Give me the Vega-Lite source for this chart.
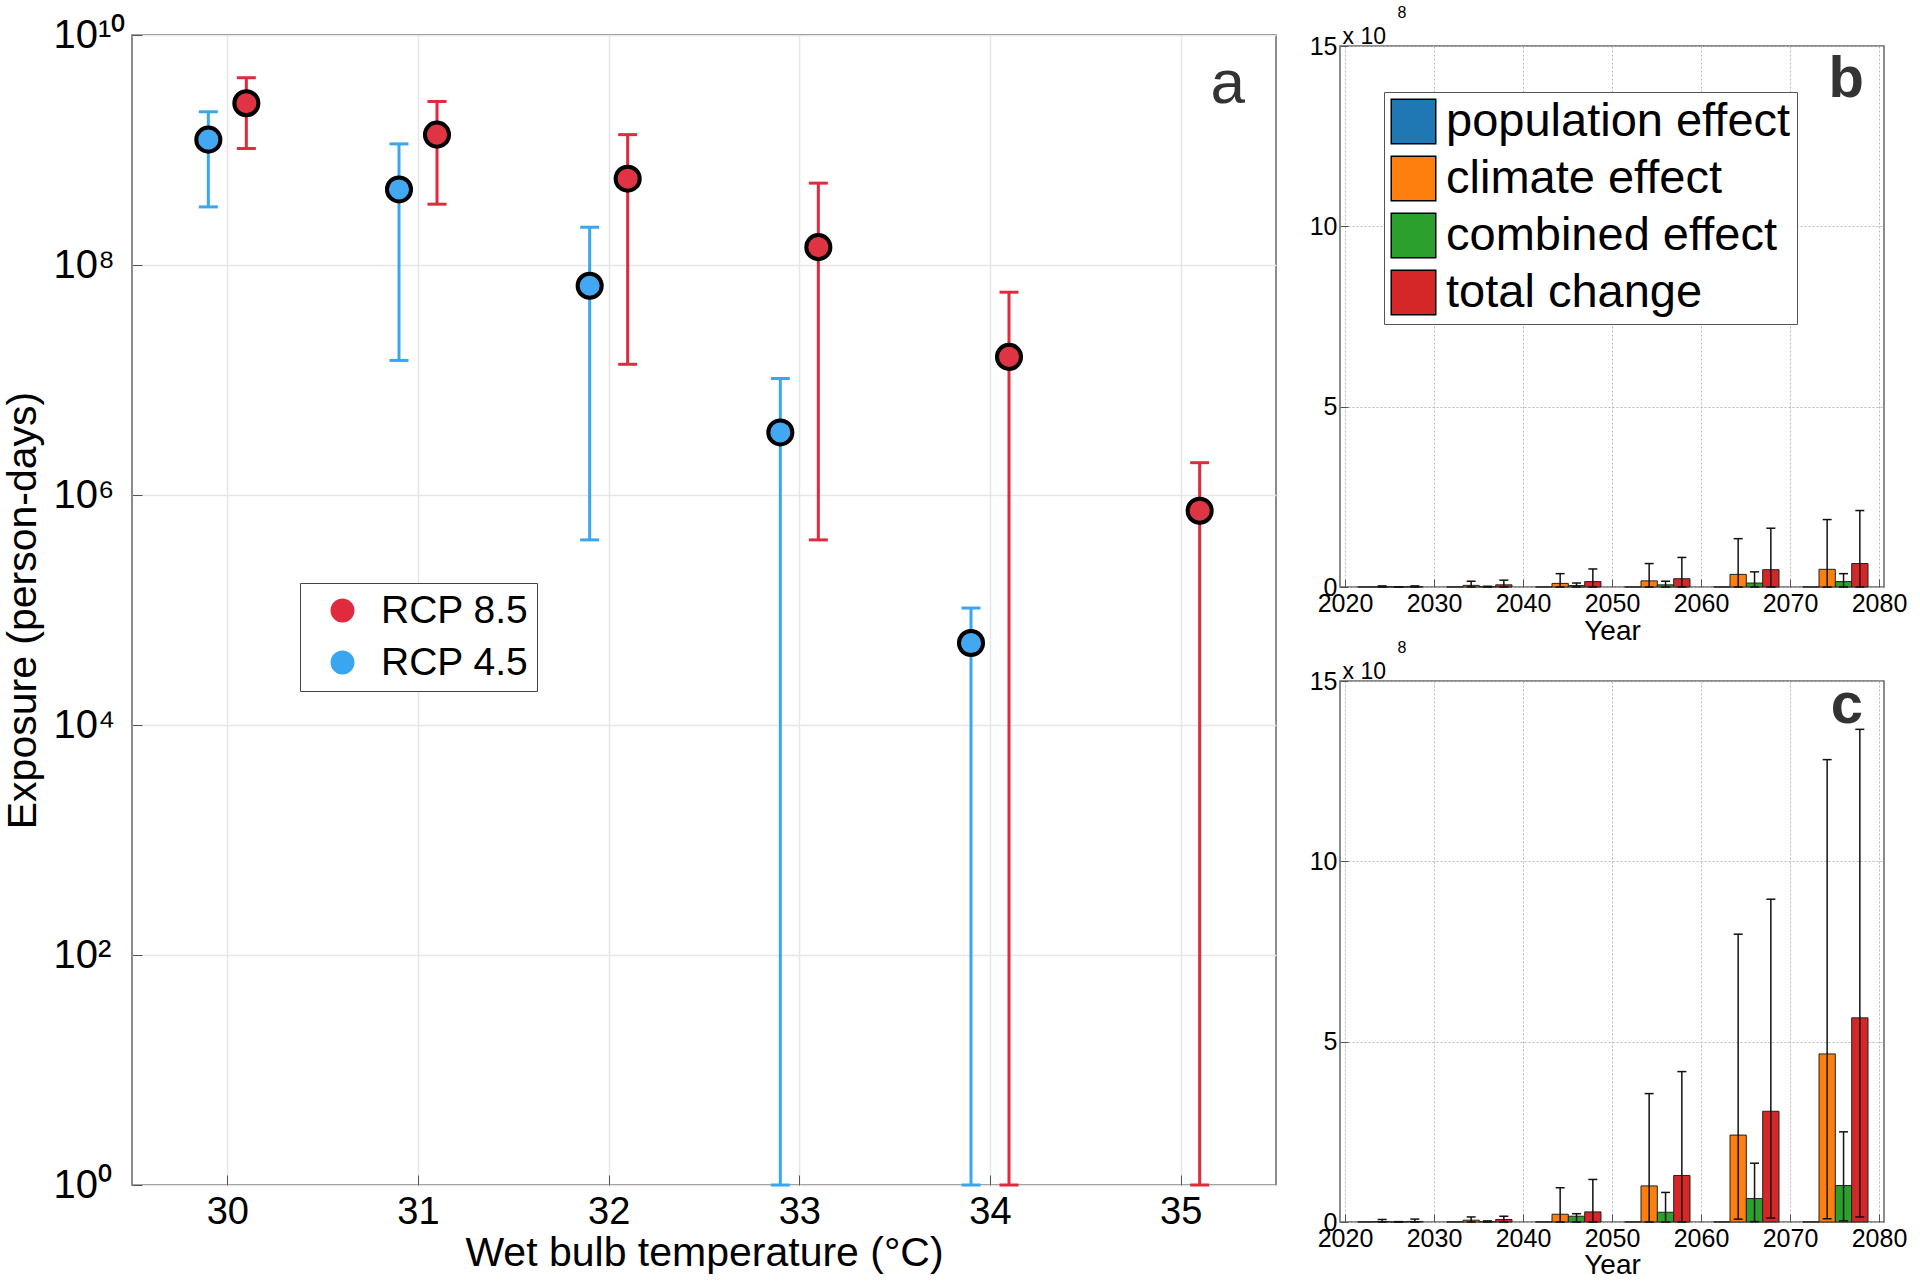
{
  "$schema": "https://vega.github.io/schema/vega-lite/v6.json",
  "background": "white",
  "padding": {"left": 1, "top": 4, "right": 5, "bottom": 5},
  "config": {
    "font": "Liberation Sans",
    "view": {"stroke": "#666666", "strokeWidth": 1.5},
    "axis": {"labelColor": "#000000", "titleColor": "#000000", "labelFont": "Liberation Sans", "titleFont": "Liberation Sans", "titleFontWeight": "normal", "tickColor": "#555555"},
    "legend": {"labelFont": "Liberation Sans", "labelColor": "#000000"}
  },
  "datasets": {
    "a": [
      {"temp": 30, "scenario": "RCP 4.5", "exposure": 1.23e9, "lo": 3.2e8, "hi": 2.15e9},
      {"temp": 30, "scenario": "RCP 8.5", "exposure": 2.55e9, "lo": 1.03e9, "hi": 4.25e9},
      {"temp": 31, "scenario": "RCP 4.5", "exposure": 4.54e8, "lo": 1.48e7, "hi": 1.13e9},
      {"temp": 31, "scenario": "RCP 8.5", "exposure": 1.36e9, "lo": 3.38e8, "hi": 2.64e9},
      {"temp": 32, "scenario": "RCP 4.5", "exposure": 6.6e7, "lo": 4.07e5, "hi": 2.13e8},
      {"temp": 32, "scenario": "RCP 8.5", "exposure": 5.63e8, "lo": 1.37e7, "hi": 1.36e9},
      {"temp": 33, "scenario": "RCP 4.5", "exposure": 3.5e6, "lo": 1, "hi": 1.03e7},
      {"temp": 33, "scenario": "RCP 8.5", "exposure": 1.43e8, "lo": 4.07e5, "hi": 5.15e8},
      {"temp": 34, "scenario": "RCP 4.5", "exposure": 5.16e4, "lo": 1, "hi": 1.04e5},
      {"temp": 34, "scenario": "RCP 8.5", "exposure": 1.59e7, "lo": 1, "hi": 5.8e7},
      {"temp": 35, "scenario": "RCP 8.5", "exposure": 7.3e5, "lo": 1, "hi": 1.91e6}
    ],
    "b": [
      {"decade": 2020, "effect": "population effect", "value": 0.002},
      {"decade": 2020, "effect": "climate effect", "value": 0.005, "lo": 0, "hi": 0.03},
      {"decade": 2020, "effect": "combined effect", "value": 0.001, "lo": 0, "hi": 0.005},
      {"decade": 2020, "effect": "total change", "value": 0.006, "lo": 0, "hi": 0.03},
      {"decade": 2030, "effect": "population effect", "value": 0.002},
      {"decade": 2030, "effect": "climate effect", "value": 0.045, "lo": 0, "hi": 0.16},
      {"decade": 2030, "effect": "combined effect", "value": 0.01, "lo": 0, "hi": 0.02},
      {"decade": 2030, "effect": "total change", "value": 0.06, "lo": 0, "hi": 0.19},
      {"decade": 2040, "effect": "population effect", "value": 0.002},
      {"decade": 2040, "effect": "climate effect", "value": 0.10, "lo": 0, "hi": 0.37},
      {"decade": 2040, "effect": "combined effect", "value": 0.04, "lo": 0, "hi": 0.11},
      {"decade": 2040, "effect": "total change", "value": 0.15, "lo": 0, "hi": 0.50},
      {"decade": 2050, "effect": "population effect", "value": 0.002},
      {"decade": 2050, "effect": "climate effect", "value": 0.17, "lo": 0, "hi": 0.65},
      {"decade": 2050, "effect": "combined effect", "value": 0.06, "lo": 0, "hi": 0.16},
      {"decade": 2050, "effect": "total change", "value": 0.23, "lo": 0, "hi": 0.82},
      {"decade": 2060, "effect": "population effect", "value": 0.002},
      {"decade": 2060, "effect": "climate effect", "value": 0.35, "lo": 0, "hi": 1.34},
      {"decade": 2060, "effect": "combined effect", "value": 0.11, "lo": 0, "hi": 0.42},
      {"decade": 2060, "effect": "total change", "value": 0.48, "lo": 0, "hi": 1.63},
      {"decade": 2070, "effect": "population effect", "value": 0.002},
      {"decade": 2070, "effect": "climate effect", "value": 0.49, "lo": 0, "hi": 1.87},
      {"decade": 2070, "effect": "combined effect", "value": 0.15, "lo": 0, "hi": 0.37},
      {"decade": 2070, "effect": "total change", "value": 0.65, "lo": 0, "hi": 2.12}
    ],
    "c": [
      {"decade": 2020, "effect": "population effect", "value": 0.003},
      {"decade": 2020, "effect": "climate effect", "value": 0.012, "lo": 0, "hi": 0.07},
      {"decade": 2020, "effect": "combined effect", "value": 0.002, "lo": 0, "hi": 0.01},
      {"decade": 2020, "effect": "total change", "value": 0.015, "lo": 0, "hi": 0.08},
      {"decade": 2030, "effect": "population effect", "value": 0.003},
      {"decade": 2030, "effect": "climate effect", "value": 0.05, "lo": 0, "hi": 0.14},
      {"decade": 2030, "effect": "combined effect", "value": 0.01, "lo": 0, "hi": 0.03},
      {"decade": 2030, "effect": "total change", "value": 0.07, "lo": 0, "hi": 0.16},
      {"decade": 2040, "effect": "population effect", "value": 0.003},
      {"decade": 2040, "effect": "climate effect", "value": 0.215, "lo": 0, "hi": 0.95},
      {"decade": 2040, "effect": "combined effect", "value": 0.16, "lo": 0, "hi": 0.23},
      {"decade": 2040, "effect": "total change", "value": 0.28, "lo": 0, "hi": 1.18},
      {"decade": 2050, "effect": "population effect", "value": 0.003},
      {"decade": 2050, "effect": "climate effect", "value": 1.00, "lo": 0, "hi": 3.56},
      {"decade": 2050, "effect": "combined effect", "value": 0.27, "lo": 0, "hi": 0.82},
      {"decade": 2050, "effect": "total change", "value": 1.29, "lo": 0, "hi": 4.17},
      {"decade": 2060, "effect": "population effect", "value": 0.003},
      {"decade": 2060, "effect": "climate effect", "value": 2.41, "lo": 0.08, "hi": 7.98},
      {"decade": 2060, "effect": "combined effect", "value": 0.65, "lo": 0.01, "hi": 1.63},
      {"decade": 2060, "effect": "total change", "value": 3.07, "lo": 0.11, "hi": 8.95},
      {"decade": 2070, "effect": "population effect", "value": 0.003},
      {"decade": 2070, "effect": "climate effect", "value": 4.66, "lo": 0.09, "hi": 12.82},
      {"decade": 2070, "effect": "combined effect", "value": 1.01, "lo": 0.03, "hi": 2.50},
      {"decade": 2070, "effect": "total change", "value": 5.66, "lo": 0.14, "hi": 13.66}
    ]
  },
  "bounds": "flush",
  "spacing": 64,
  "resolve": {"scale": {"color": "independent", "fill": "independent"}, "legend": {"color": "independent", "fill": "independent"}},
  "hconcat": [
    {
      "width": 1144,
      "height": 1150,
      "layer": [
        {
          "data": {"name": "a"},
          "encoding": {
            "x": {"field": "temp", "type": "quantitative", "scale": {"domain": [29.5, 35.5], "nice": false, "zero": false},
              "axis": {"title": "Wet bulb temperature (°C)", "values": [30, 31, 32, 33, 34, 35], "format": "d", "labelFontSize": 38, "titleFontSize": 41, "labelPadding": 18, "titlePadding": 2, "tickSize": -10, "domain": false, "grid": true, "gridColor": "#e6e6e6", "gridWidth": 1.5, "labelFlush": false, "labelOverlap": false}},
            "color": {"field": "scenario", "type": "nominal", "scale": {"domain": ["RCP 8.5", "RCP 4.5"], "range": ["#E02A3E", "#3AA6F0"]},
              "legend": {"title": null, "orient": "none", "legendX": 168, "legendY": 548, "symbolType": "circle", "symbolSize": 573, "symbolOpacity": 1, "symbolStrokeWidth": 0, "labelFontSize": 39, "rowPadding": 12, "padding": 8, "symbolOffset": 15, "labelOffset": 19, "labelLimit": 1000, "strokeColor": "#444444", "fillColor": "#ffffff"}}
          },
          "layer": [
            {
              "transform": [{"filter": "datum.scenario == 'RCP 4.5'"}],
              "mark": {"type": "rule", "strokeWidth": 3, "xOffset": -19},
              "encoding": {
                "y": {"field": "lo", "type": "quantitative", "scale": {"type": "log", "domain": [1, 10000000000]},
                  "axis": {"title": "Exposure (person-days)", "values": [1, 100, 10000, 1000000, 100000000, 10000000000], "labelExpr": "datum.value >= 1e10 ? '10¹⁰' : datum.value >= 1e8 ? '10⁸' : datum.value >= 1e6 ? '10⁶' : datum.value >= 1e4 ? '10⁴' : datum.value >= 100 ? '10²' : '10⁰'", "labelAlign": "left", "labelPadding": 89, "labelFontSize": 40, "titleFontSize": 41, "titlePadding": 9, "tickSize": -10, "domain": false, "grid": true, "gridColor": "#e6e6e6", "gridWidth": 1.5, "labelOverlap": false}},
                "y2": {"field": "hi"}
              }
            },
            {
              "transform": [{"filter": "datum.scenario == 'RCP 8.5'"}],
              "mark": {"type": "rule", "strokeWidth": 3, "xOffset": 19},
              "encoding": {
                "y": {"field": "lo", "type": "quantitative", "scale": {"type": "log", "domain": [1, 10000000000]},
                  "axis": {"title": "Exposure (person-days)", "values": [1, 100, 10000, 1000000, 100000000, 10000000000], "labelExpr": "datum.value >= 1e10 ? '10¹⁰' : datum.value >= 1e8 ? '10⁸' : datum.value >= 1e6 ? '10⁶' : datum.value >= 1e4 ? '10⁴' : datum.value >= 100 ? '10²' : '10⁰'", "labelAlign": "left", "labelPadding": 89, "labelFontSize": 40, "titleFontSize": 41, "titlePadding": 9, "tickSize": -10, "domain": false, "grid": true, "gridColor": "#e6e6e6", "gridWidth": 1.5, "labelOverlap": false}},
                "y2": {"field": "hi"}
              }
            },
            {
              "transform": [{"filter": "datum.scenario == 'RCP 4.5'"}],
              "mark": {"type": "tick", "orient": "horizontal", "thickness": 3, "size": 19, "opacity": 1, "xOffset": -19},
              "encoding": {
                "y": {"field": "hi", "type": "quantitative", "scale": {"type": "log", "domain": [1, 10000000000]},
                  "axis": {"title": "Exposure (person-days)", "values": [1, 100, 10000, 1000000, 100000000, 10000000000], "labelExpr": "datum.value >= 1e10 ? '10¹⁰' : datum.value >= 1e8 ? '10⁸' : datum.value >= 1e6 ? '10⁶' : datum.value >= 1e4 ? '10⁴' : datum.value >= 100 ? '10²' : '10⁰'", "labelAlign": "left", "labelPadding": 89, "labelFontSize": 40, "titleFontSize": 41, "titlePadding": 9, "tickSize": -10, "domain": false, "grid": true, "gridColor": "#e6e6e6", "gridWidth": 1.5, "labelOverlap": false}}
              }
            },
            {
              "transform": [{"filter": "datum.scenario == 'RCP 8.5'"}],
              "mark": {"type": "tick", "orient": "horizontal", "thickness": 3, "size": 19, "opacity": 1, "xOffset": 19},
              "encoding": {
                "y": {"field": "hi", "type": "quantitative", "scale": {"type": "log", "domain": [1, 10000000000]},
                  "axis": {"title": "Exposure (person-days)", "values": [1, 100, 10000, 1000000, 100000000, 10000000000], "labelExpr": "datum.value >= 1e10 ? '10¹⁰' : datum.value >= 1e8 ? '10⁸' : datum.value >= 1e6 ? '10⁶' : datum.value >= 1e4 ? '10⁴' : datum.value >= 100 ? '10²' : '10⁰'", "labelAlign": "left", "labelPadding": 89, "labelFontSize": 40, "titleFontSize": 41, "titlePadding": 9, "tickSize": -10, "domain": false, "grid": true, "gridColor": "#e6e6e6", "gridWidth": 1.5, "labelOverlap": false}}
              }
            },
            {
              "transform": [{"filter": "datum.scenario == 'RCP 4.5'"}],
              "mark": {"type": "tick", "orient": "horizontal", "thickness": 3, "size": 19, "opacity": 1, "xOffset": -19},
              "encoding": {
                "y": {"field": "lo", "type": "quantitative", "scale": {"type": "log", "domain": [1, 10000000000]},
                  "axis": {"title": "Exposure (person-days)", "values": [1, 100, 10000, 1000000, 100000000, 10000000000], "labelExpr": "datum.value >= 1e10 ? '10¹⁰' : datum.value >= 1e8 ? '10⁸' : datum.value >= 1e6 ? '10⁶' : datum.value >= 1e4 ? '10⁴' : datum.value >= 100 ? '10²' : '10⁰'", "labelAlign": "left", "labelPadding": 89, "labelFontSize": 40, "titleFontSize": 41, "titlePadding": 9, "tickSize": -10, "domain": false, "grid": true, "gridColor": "#e6e6e6", "gridWidth": 1.5, "labelOverlap": false}}
              }
            },
            {
              "transform": [{"filter": "datum.scenario == 'RCP 8.5'"}],
              "mark": {"type": "tick", "orient": "horizontal", "thickness": 3, "size": 19, "opacity": 1, "xOffset": 19},
              "encoding": {
                "y": {"field": "lo", "type": "quantitative", "scale": {"type": "log", "domain": [1, 10000000000]},
                  "axis": {"title": "Exposure (person-days)", "values": [1, 100, 10000, 1000000, 100000000, 10000000000], "labelExpr": "datum.value >= 1e10 ? '10¹⁰' : datum.value >= 1e8 ? '10⁸' : datum.value >= 1e6 ? '10⁶' : datum.value >= 1e4 ? '10⁴' : datum.value >= 100 ? '10²' : '10⁰'", "labelAlign": "left", "labelPadding": 89, "labelFontSize": 40, "titleFontSize": 41, "titlePadding": 9, "tickSize": -10, "domain": false, "grid": true, "gridColor": "#e6e6e6", "gridWidth": 1.5, "labelOverlap": false}}
              }
            },
            {
              "transform": [{"filter": "datum.scenario == 'RCP 4.5'"}],
              "mark": {"type": "point", "shape": "circle", "filled": true, "size": 580, "stroke": "#000000", "strokeWidth": 4, "opacity": 1, "xOffset": -19},
              "encoding": {
                "y": {"field": "exposure", "type": "quantitative", "scale": {"type": "log", "domain": [1, 10000000000]},
                  "axis": {"title": "Exposure (person-days)", "values": [1, 100, 10000, 1000000, 100000000, 10000000000], "labelExpr": "datum.value >= 1e10 ? '10¹⁰' : datum.value >= 1e8 ? '10⁸' : datum.value >= 1e6 ? '10⁶' : datum.value >= 1e4 ? '10⁴' : datum.value >= 100 ? '10²' : '10⁰'", "labelAlign": "left", "labelPadding": 89, "labelFontSize": 40, "titleFontSize": 41, "titlePadding": 9, "tickSize": -10, "domain": false, "grid": true, "gridColor": "#e6e6e6", "gridWidth": 1.5, "labelOverlap": false}},
                "fill": {"field": "scenario", "type": "nominal", "scale": {"domain": ["RCP 8.5", "RCP 4.5"], "range": ["#DF3444", "#42A8F2"]},
                  "legend": {"title": null, "orient": "none", "legendX": 168, "legendY": 548, "symbolType": "circle", "symbolSize": 573, "symbolOpacity": 1, "symbolStrokeWidth": 0, "labelFontSize": 39, "rowPadding": 12, "padding": 8, "symbolOffset": 15, "labelOffset": 19, "labelLimit": 1000, "strokeColor": "#444444", "fillColor": "#ffffff"}}
              }
            },
            {
              "transform": [{"filter": "datum.scenario == 'RCP 8.5'"}],
              "mark": {"type": "point", "shape": "circle", "filled": true, "size": 580, "stroke": "#000000", "strokeWidth": 4, "opacity": 1, "xOffset": 19},
              "encoding": {
                "y": {"field": "exposure", "type": "quantitative", "scale": {"type": "log", "domain": [1, 10000000000]},
                  "axis": {"title": "Exposure (person-days)", "values": [1, 100, 10000, 1000000, 100000000, 10000000000], "labelExpr": "datum.value >= 1e10 ? '10¹⁰' : datum.value >= 1e8 ? '10⁸' : datum.value >= 1e6 ? '10⁶' : datum.value >= 1e4 ? '10⁴' : datum.value >= 100 ? '10²' : '10⁰'", "labelAlign": "left", "labelPadding": 89, "labelFontSize": 40, "titleFontSize": 41, "titlePadding": 9, "tickSize": -10, "domain": false, "grid": true, "gridColor": "#e6e6e6", "gridWidth": 1.5, "labelOverlap": false}},
                "fill": {"field": "scenario", "type": "nominal", "scale": {"domain": ["RCP 8.5", "RCP 4.5"], "range": ["#DF3444", "#42A8F2"]},
                  "legend": {"title": null, "orient": "none", "legendX": 168, "legendY": 548, "symbolType": "circle", "symbolSize": 573, "symbolOpacity": 1, "symbolStrokeWidth": 0, "labelFontSize": 39, "rowPadding": 12, "padding": 8, "symbolOffset": 15, "labelOffset": 19, "labelLimit": 1000, "strokeColor": "#444444", "fillColor": "#ffffff"}}
              }
            }
          ]
        },
        {
          "data": {"values": [{"label": "a"}]},
          "mark": {"type": "text", "fontSize": 62, "align": "right", "baseline": "alphabetic", "color": "#333333"},
          "encoding": {
            "x": {"datum": 35.337, "type": "quantitative"},
            "y": {"datum": 2560000000, "type": "quantitative"},
            "text": {"field": "label"}
          }
        }
      ]
    },
    {
      "vconcat": [
        {"width": 544, "height": 11, "view": {"stroke": null}, "data": {"values": [{}]}, "mark": {"type": "text", "text": ""}, "encoding": {}},
        {
          "width": 544,
          "height": 541,
          "layer": [
            {
              "data": {"name": "b"},
              "encoding": {
                "x": {"field": "decade", "type": "quantitative", "scale": {"domain": [2020, 2080], "nice": false, "zero": false},
                  "axis": {"title": "Year", "values": [2020, 2030, 2040, 2050, 2060, 2070, 2080], "format": "d", "labelFontSize": 25, "titleFontSize": 28, "labelPadding": 12, "titlePadding": 1, "tickSize": -8, "domain": false, "grid": true, "gridColor": "#b8b8b8", "gridDash": [2, 2], "labelFlush": false, "labelOverlap": false, "labelBound": false}}
              },
              "layer": [
                {
                  "transform": [{"filter": "datum.effect == 'population effect'"}],
                  "mark": {"type": "bar", "orient": "vertical", "size": 16.3, "stroke": "#222222", "strokeWidth": 1, "xOffset": 20.85},
                  "encoding": {
                    "y": {"field": "value", "type": "quantitative", "stack": null, "scale": {"domain": [0, 15], "nice": false},
                      "axis": {"title": "x 10", "titleAngle": 0, "titleAlign": "left", "titleBaseline": "alphabetic", "titleX": 2, "titleY": -3, "titleFontSize": 23, "values": [0, 5, 10, 15], "labelFontSize": 25, "labelPadding": 11, "tickSize": -8, "domain": false, "grid": true, "gridColor": "#b8b8b8", "gridDash": [2, 2], "labelOverlap": false, "labelFlush": false}},
                    "fill": {"field": "effect", "type": "nominal", "scale": {"domain": ["population effect", "climate effect", "combined effect", "total change"], "range": ["#1F77B4", "#FF7F0E", "#2CA02C", "#D62728"]},
                      "legend": {"title": null, "orient": "none", "legendX": 44, "legendY": 46, "symbolType": "square", "symbolSize": 1980, "symbolStrokeColor": "#000000", "symbolStrokeWidth": 1.5, "symbolOpacity": 1, "labelFontSize": 47, "rowPadding": 6, "padding": 6, "labelOffset": 9, "labelLimit": 1000, "strokeColor": "#555555", "fillColor": "#ffffff"}}
                  }
                },
                {
                  "transform": [{"filter": "datum.effect == 'climate effect'"}],
                  "mark": {"type": "bar", "orient": "vertical", "size": 16.3, "stroke": "#222222", "strokeWidth": 1, "xOffset": 37.15},
                  "encoding": {
                    "y": {"field": "value", "type": "quantitative", "stack": null, "scale": {"domain": [0, 15], "nice": false},
                      "axis": {"title": "x 10", "titleAngle": 0, "titleAlign": "left", "titleBaseline": "alphabetic", "titleX": 2, "titleY": -3, "titleFontSize": 23, "values": [0, 5, 10, 15], "labelFontSize": 25, "labelPadding": 11, "tickSize": -8, "domain": false, "grid": true, "gridColor": "#b8b8b8", "gridDash": [2, 2], "labelOverlap": false, "labelFlush": false}},
                    "fill": {"field": "effect", "type": "nominal", "scale": {"domain": ["population effect", "climate effect", "combined effect", "total change"], "range": ["#1F77B4", "#FF7F0E", "#2CA02C", "#D62728"]},
                      "legend": {"title": null, "orient": "none", "legendX": 44, "legendY": 46, "symbolType": "square", "symbolSize": 1980, "symbolStrokeColor": "#000000", "symbolStrokeWidth": 1.5, "symbolOpacity": 1, "labelFontSize": 47, "rowPadding": 6, "padding": 6, "labelOffset": 9, "labelLimit": 1000, "strokeColor": "#555555", "fillColor": "#ffffff"}}
                  }
                },
                {
                  "transform": [{"filter": "datum.effect == 'combined effect'"}],
                  "mark": {"type": "bar", "orient": "vertical", "size": 16.3, "stroke": "#222222", "strokeWidth": 1, "xOffset": 53.55},
                  "encoding": {
                    "y": {"field": "value", "type": "quantitative", "stack": null, "scale": {"domain": [0, 15], "nice": false},
                      "axis": {"title": "x 10", "titleAngle": 0, "titleAlign": "left", "titleBaseline": "alphabetic", "titleX": 2, "titleY": -3, "titleFontSize": 23, "values": [0, 5, 10, 15], "labelFontSize": 25, "labelPadding": 11, "tickSize": -8, "domain": false, "grid": true, "gridColor": "#b8b8b8", "gridDash": [2, 2], "labelOverlap": false, "labelFlush": false}},
                    "fill": {"field": "effect", "type": "nominal", "scale": {"domain": ["population effect", "climate effect", "combined effect", "total change"], "range": ["#1F77B4", "#FF7F0E", "#2CA02C", "#D62728"]},
                      "legend": {"title": null, "orient": "none", "legendX": 44, "legendY": 46, "symbolType": "square", "symbolSize": 1980, "symbolStrokeColor": "#000000", "symbolStrokeWidth": 1.5, "symbolOpacity": 1, "labelFontSize": 47, "rowPadding": 6, "padding": 6, "labelOffset": 9, "labelLimit": 1000, "strokeColor": "#555555", "fillColor": "#ffffff"}}
                  }
                },
                {
                  "transform": [{"filter": "datum.effect == 'total change'"}],
                  "mark": {"type": "bar", "orient": "vertical", "size": 16.3, "stroke": "#222222", "strokeWidth": 1, "xOffset": 69.85},
                  "encoding": {
                    "y": {"field": "value", "type": "quantitative", "stack": null, "scale": {"domain": [0, 15], "nice": false},
                      "axis": {"title": "x 10", "titleAngle": 0, "titleAlign": "left", "titleBaseline": "alphabetic", "titleX": 2, "titleY": -3, "titleFontSize": 23, "values": [0, 5, 10, 15], "labelFontSize": 25, "labelPadding": 11, "tickSize": -8, "domain": false, "grid": true, "gridColor": "#b8b8b8", "gridDash": [2, 2], "labelOverlap": false, "labelFlush": false}},
                    "fill": {"field": "effect", "type": "nominal", "scale": {"domain": ["population effect", "climate effect", "combined effect", "total change"], "range": ["#1F77B4", "#FF7F0E", "#2CA02C", "#D62728"]},
                      "legend": {"title": null, "orient": "none", "legendX": 44, "legendY": 46, "symbolType": "square", "symbolSize": 1980, "symbolStrokeColor": "#000000", "symbolStrokeWidth": 1.5, "symbolOpacity": 1, "labelFontSize": 47, "rowPadding": 6, "padding": 6, "labelOffset": 9, "labelLimit": 1000, "strokeColor": "#555555", "fillColor": "#ffffff"}}
                  }
                },
                {
                  "transform": [{"filter": "datum.effect == 'climate effect'"}],
                  "mark": {"type": "rule", "color": "#111111", "strokeWidth": 1.5, "xOffset": 37.15},
                  "encoding": {
                    "y": {"field": "lo", "type": "quantitative", "scale": {"domain": [0, 15], "nice": false},
                      "axis": {"title": "x 10", "titleAngle": 0, "titleAlign": "left", "titleBaseline": "alphabetic", "titleX": 2, "titleY": -3, "titleFontSize": 23, "values": [0, 5, 10, 15], "labelFontSize": 25, "labelPadding": 11, "tickSize": -8, "domain": false, "grid": true, "gridColor": "#b8b8b8", "gridDash": [2, 2], "labelOverlap": false, "labelFlush": false}},
                    "y2": {"field": "hi"}
                  }
                },
                {
                  "transform": [{"filter": "datum.effect == 'combined effect'"}],
                  "mark": {"type": "rule", "color": "#111111", "strokeWidth": 1.5, "xOffset": 53.55},
                  "encoding": {
                    "y": {"field": "lo", "type": "quantitative", "scale": {"domain": [0, 15], "nice": false},
                      "axis": {"title": "x 10", "titleAngle": 0, "titleAlign": "left", "titleBaseline": "alphabetic", "titleX": 2, "titleY": -3, "titleFontSize": 23, "values": [0, 5, 10, 15], "labelFontSize": 25, "labelPadding": 11, "tickSize": -8, "domain": false, "grid": true, "gridColor": "#b8b8b8", "gridDash": [2, 2], "labelOverlap": false, "labelFlush": false}},
                    "y2": {"field": "hi"}
                  }
                },
                {
                  "transform": [{"filter": "datum.effect == 'total change'"}],
                  "mark": {"type": "rule", "color": "#111111", "strokeWidth": 1.5, "xOffset": 69.85},
                  "encoding": {
                    "y": {"field": "lo", "type": "quantitative", "scale": {"domain": [0, 15], "nice": false},
                      "axis": {"title": "x 10", "titleAngle": 0, "titleAlign": "left", "titleBaseline": "alphabetic", "titleX": 2, "titleY": -3, "titleFontSize": 23, "values": [0, 5, 10, 15], "labelFontSize": 25, "labelPadding": 11, "tickSize": -8, "domain": false, "grid": true, "gridColor": "#b8b8b8", "gridDash": [2, 2], "labelOverlap": false, "labelFlush": false}},
                    "y2": {"field": "hi"}
                  }
                },
                {
                  "transform": [{"filter": "datum.effect == 'climate effect'"}],
                  "mark": {"type": "tick", "orient": "horizontal", "color": "#111111", "opacity": 1, "thickness": 1.5, "size": 9, "xOffset": 37.15},
                  "encoding": {
                    "y": {"field": "hi", "type": "quantitative", "scale": {"domain": [0, 15], "nice": false},
                      "axis": {"title": "x 10", "titleAngle": 0, "titleAlign": "left", "titleBaseline": "alphabetic", "titleX": 2, "titleY": -3, "titleFontSize": 23, "values": [0, 5, 10, 15], "labelFontSize": 25, "labelPadding": 11, "tickSize": -8, "domain": false, "grid": true, "gridColor": "#b8b8b8", "gridDash": [2, 2], "labelOverlap": false, "labelFlush": false}}
                  }
                },
                {
                  "transform": [{"filter": "datum.effect == 'combined effect'"}],
                  "mark": {"type": "tick", "orient": "horizontal", "color": "#111111", "opacity": 1, "thickness": 1.5, "size": 9, "xOffset": 53.55},
                  "encoding": {
                    "y": {"field": "hi", "type": "quantitative", "scale": {"domain": [0, 15], "nice": false},
                      "axis": {"title": "x 10", "titleAngle": 0, "titleAlign": "left", "titleBaseline": "alphabetic", "titleX": 2, "titleY": -3, "titleFontSize": 23, "values": [0, 5, 10, 15], "labelFontSize": 25, "labelPadding": 11, "tickSize": -8, "domain": false, "grid": true, "gridColor": "#b8b8b8", "gridDash": [2, 2], "labelOverlap": false, "labelFlush": false}}
                  }
                },
                {
                  "transform": [{"filter": "datum.effect == 'total change'"}],
                  "mark": {"type": "tick", "orient": "horizontal", "color": "#111111", "opacity": 1, "thickness": 1.5, "size": 9, "xOffset": 69.85},
                  "encoding": {
                    "y": {"field": "hi", "type": "quantitative", "scale": {"domain": [0, 15], "nice": false},
                      "axis": {"title": "x 10", "titleAngle": 0, "titleAlign": "left", "titleBaseline": "alphabetic", "titleX": 2, "titleY": -3, "titleFontSize": 23, "values": [0, 5, 10, 15], "labelFontSize": 25, "labelPadding": 11, "tickSize": -8, "domain": false, "grid": true, "gridColor": "#b8b8b8", "gridDash": [2, 2], "labelOverlap": false, "labelFlush": false}}
                  }
                },
                {
                  "transform": [{"filter": "datum.effect == 'climate effect'"}],
                  "mark": {"type": "tick", "orient": "horizontal", "color": "#111111", "opacity": 1, "thickness": 1.5, "size": 9, "xOffset": 37.15},
                  "encoding": {
                    "y": {"field": "lo", "type": "quantitative", "scale": {"domain": [0, 15], "nice": false},
                      "axis": {"title": "x 10", "titleAngle": 0, "titleAlign": "left", "titleBaseline": "alphabetic", "titleX": 2, "titleY": -3, "titleFontSize": 23, "values": [0, 5, 10, 15], "labelFontSize": 25, "labelPadding": 11, "tickSize": -8, "domain": false, "grid": true, "gridColor": "#b8b8b8", "gridDash": [2, 2], "labelOverlap": false, "labelFlush": false}}
                  }
                },
                {
                  "transform": [{"filter": "datum.effect == 'combined effect'"}],
                  "mark": {"type": "tick", "orient": "horizontal", "color": "#111111", "opacity": 1, "thickness": 1.5, "size": 9, "xOffset": 53.55},
                  "encoding": {
                    "y": {"field": "lo", "type": "quantitative", "scale": {"domain": [0, 15], "nice": false},
                      "axis": {"title": "x 10", "titleAngle": 0, "titleAlign": "left", "titleBaseline": "alphabetic", "titleX": 2, "titleY": -3, "titleFontSize": 23, "values": [0, 5, 10, 15], "labelFontSize": 25, "labelPadding": 11, "tickSize": -8, "domain": false, "grid": true, "gridColor": "#b8b8b8", "gridDash": [2, 2], "labelOverlap": false, "labelFlush": false}}
                  }
                },
                {
                  "transform": [{"filter": "datum.effect == 'total change'"}],
                  "mark": {"type": "tick", "orient": "horizontal", "color": "#111111", "opacity": 1, "thickness": 1.5, "size": 9, "xOffset": 69.85},
                  "encoding": {
                    "y": {"field": "lo", "type": "quantitative", "scale": {"domain": [0, 15], "nice": false},
                      "axis": {"title": "x 10", "titleAngle": 0, "titleAlign": "left", "titleBaseline": "alphabetic", "titleX": 2, "titleY": -3, "titleFontSize": 23, "values": [0, 5, 10, 15], "labelFontSize": 25, "labelPadding": 11, "tickSize": -8, "domain": false, "grid": true, "gridColor": "#b8b8b8", "gridDash": [2, 2], "labelOverlap": false, "labelFlush": false}}
                  }
                }
              ]
            },
            {
              "data": {"values": [{"label": "b"}]},
              "mark": {"type": "text", "fontSize": 58, "fontWeight": "bold", "align": "right", "baseline": "alphabetic", "color": "#333333"},
              "encoding": {
                "x": {"datum": 2078.3, "type": "quantitative"},
                "y": {"datum": 13.59, "type": "quantitative"},
                "text": {"field": "label"}
              }
            },
            {
              "data": {"values": [{"label": "8"}]},
              "mark": {"type": "text", "fontSize": 16, "align": "left", "baseline": "alphabetic", "color": "#000000"},
              "encoding": {
                "x": {"datum": 2025.9, "type": "quantitative"},
                "y": {"datum": 15.78, "type": "quantitative"},
                "text": {"field": "label"}
              }
            }
          ]
        },
        {"width": 544, "height": 94, "view": {"stroke": null}, "data": {"values": [{}]}, "mark": {"type": "text", "text": ""}, "encoding": {}},
        {
          "width": 544,
          "height": 541,
          "layer": [
            {
              "data": {"name": "c"},
              "encoding": {
                "x": {"field": "decade", "type": "quantitative", "scale": {"domain": [2020, 2080], "nice": false, "zero": false},
                  "axis": {"title": "Year", "values": [2020, 2030, 2040, 2050, 2060, 2070, 2080], "format": "d", "labelFontSize": 25, "titleFontSize": 28, "labelPadding": 12, "titlePadding": 0, "tickSize": -8, "domain": false, "grid": true, "gridColor": "#b8b8b8", "gridDash": [2, 2], "labelFlush": false, "labelOverlap": false, "labelBound": false}}
              },
              "layer": [
                {
                  "transform": [{"filter": "datum.effect == 'population effect'"}],
                  "mark": {"type": "bar", "orient": "vertical", "size": 16.3, "stroke": "#222222", "strokeWidth": 1, "xOffset": 20.85},
                  "encoding": {
                    "y": {"field": "value", "type": "quantitative", "stack": null, "scale": {"domain": [0, 15], "nice": false},
                      "axis": {"title": "x 10", "titleAngle": 0, "titleAlign": "left", "titleBaseline": "alphabetic", "titleX": 2, "titleY": -3, "titleFontSize": 23, "values": [0, 5, 10, 15], "labelFontSize": 25, "labelPadding": 11, "tickSize": -8, "domain": false, "grid": true, "gridColor": "#b8b8b8", "gridDash": [2, 2], "labelOverlap": false, "labelFlush": false}},
                    "fill": {"field": "effect", "type": "nominal", "scale": {"domain": ["population effect", "climate effect", "combined effect", "total change"], "range": ["#1F77B4", "#FF7F0E", "#2CA02C", "#D62728"]}, "legend": null}
                  }
                },
                {
                  "transform": [{"filter": "datum.effect == 'climate effect'"}],
                  "mark": {"type": "bar", "orient": "vertical", "size": 16.3, "stroke": "#222222", "strokeWidth": 1, "xOffset": 37.15},
                  "encoding": {
                    "y": {"field": "value", "type": "quantitative", "stack": null, "scale": {"domain": [0, 15], "nice": false},
                      "axis": {"title": "x 10", "titleAngle": 0, "titleAlign": "left", "titleBaseline": "alphabetic", "titleX": 2, "titleY": -3, "titleFontSize": 23, "values": [0, 5, 10, 15], "labelFontSize": 25, "labelPadding": 11, "tickSize": -8, "domain": false, "grid": true, "gridColor": "#b8b8b8", "gridDash": [2, 2], "labelOverlap": false, "labelFlush": false}},
                    "fill": {"field": "effect", "type": "nominal", "scale": {"domain": ["population effect", "climate effect", "combined effect", "total change"], "range": ["#1F77B4", "#FF7F0E", "#2CA02C", "#D62728"]}, "legend": null}
                  }
                },
                {
                  "transform": [{"filter": "datum.effect == 'combined effect'"}],
                  "mark": {"type": "bar", "orient": "vertical", "size": 16.3, "stroke": "#222222", "strokeWidth": 1, "xOffset": 53.55},
                  "encoding": {
                    "y": {"field": "value", "type": "quantitative", "stack": null, "scale": {"domain": [0, 15], "nice": false},
                      "axis": {"title": "x 10", "titleAngle": 0, "titleAlign": "left", "titleBaseline": "alphabetic", "titleX": 2, "titleY": -3, "titleFontSize": 23, "values": [0, 5, 10, 15], "labelFontSize": 25, "labelPadding": 11, "tickSize": -8, "domain": false, "grid": true, "gridColor": "#b8b8b8", "gridDash": [2, 2], "labelOverlap": false, "labelFlush": false}},
                    "fill": {"field": "effect", "type": "nominal", "scale": {"domain": ["population effect", "climate effect", "combined effect", "total change"], "range": ["#1F77B4", "#FF7F0E", "#2CA02C", "#D62728"]}, "legend": null}
                  }
                },
                {
                  "transform": [{"filter": "datum.effect == 'total change'"}],
                  "mark": {"type": "bar", "orient": "vertical", "size": 16.3, "stroke": "#222222", "strokeWidth": 1, "xOffset": 69.85},
                  "encoding": {
                    "y": {"field": "value", "type": "quantitative", "stack": null, "scale": {"domain": [0, 15], "nice": false},
                      "axis": {"title": "x 10", "titleAngle": 0, "titleAlign": "left", "titleBaseline": "alphabetic", "titleX": 2, "titleY": -3, "titleFontSize": 23, "values": [0, 5, 10, 15], "labelFontSize": 25, "labelPadding": 11, "tickSize": -8, "domain": false, "grid": true, "gridColor": "#b8b8b8", "gridDash": [2, 2], "labelOverlap": false, "labelFlush": false}},
                    "fill": {"field": "effect", "type": "nominal", "scale": {"domain": ["population effect", "climate effect", "combined effect", "total change"], "range": ["#1F77B4", "#FF7F0E", "#2CA02C", "#D62728"]}, "legend": null}
                  }
                },
                {
                  "transform": [{"filter": "datum.effect == 'climate effect'"}],
                  "mark": {"type": "rule", "color": "#111111", "strokeWidth": 1.5, "xOffset": 37.15},
                  "encoding": {
                    "y": {"field": "lo", "type": "quantitative", "scale": {"domain": [0, 15], "nice": false},
                      "axis": {"title": "x 10", "titleAngle": 0, "titleAlign": "left", "titleBaseline": "alphabetic", "titleX": 2, "titleY": -3, "titleFontSize": 23, "values": [0, 5, 10, 15], "labelFontSize": 25, "labelPadding": 11, "tickSize": -8, "domain": false, "grid": true, "gridColor": "#b8b8b8", "gridDash": [2, 2], "labelOverlap": false, "labelFlush": false}},
                    "y2": {"field": "hi"}
                  }
                },
                {
                  "transform": [{"filter": "datum.effect == 'combined effect'"}],
                  "mark": {"type": "rule", "color": "#111111", "strokeWidth": 1.5, "xOffset": 53.55},
                  "encoding": {
                    "y": {"field": "lo", "type": "quantitative", "scale": {"domain": [0, 15], "nice": false},
                      "axis": {"title": "x 10", "titleAngle": 0, "titleAlign": "left", "titleBaseline": "alphabetic", "titleX": 2, "titleY": -3, "titleFontSize": 23, "values": [0, 5, 10, 15], "labelFontSize": 25, "labelPadding": 11, "tickSize": -8, "domain": false, "grid": true, "gridColor": "#b8b8b8", "gridDash": [2, 2], "labelOverlap": false, "labelFlush": false}},
                    "y2": {"field": "hi"}
                  }
                },
                {
                  "transform": [{"filter": "datum.effect == 'total change'"}],
                  "mark": {"type": "rule", "color": "#111111", "strokeWidth": 1.5, "xOffset": 69.85},
                  "encoding": {
                    "y": {"field": "lo", "type": "quantitative", "scale": {"domain": [0, 15], "nice": false},
                      "axis": {"title": "x 10", "titleAngle": 0, "titleAlign": "left", "titleBaseline": "alphabetic", "titleX": 2, "titleY": -3, "titleFontSize": 23, "values": [0, 5, 10, 15], "labelFontSize": 25, "labelPadding": 11, "tickSize": -8, "domain": false, "grid": true, "gridColor": "#b8b8b8", "gridDash": [2, 2], "labelOverlap": false, "labelFlush": false}},
                    "y2": {"field": "hi"}
                  }
                },
                {
                  "transform": [{"filter": "datum.effect == 'climate effect'"}],
                  "mark": {"type": "tick", "orient": "horizontal", "color": "#111111", "opacity": 1, "thickness": 1.5, "size": 9, "xOffset": 37.15},
                  "encoding": {
                    "y": {"field": "hi", "type": "quantitative", "scale": {"domain": [0, 15], "nice": false},
                      "axis": {"title": "x 10", "titleAngle": 0, "titleAlign": "left", "titleBaseline": "alphabetic", "titleX": 2, "titleY": -3, "titleFontSize": 23, "values": [0, 5, 10, 15], "labelFontSize": 25, "labelPadding": 11, "tickSize": -8, "domain": false, "grid": true, "gridColor": "#b8b8b8", "gridDash": [2, 2], "labelOverlap": false, "labelFlush": false}}
                  }
                },
                {
                  "transform": [{"filter": "datum.effect == 'combined effect'"}],
                  "mark": {"type": "tick", "orient": "horizontal", "color": "#111111", "opacity": 1, "thickness": 1.5, "size": 9, "xOffset": 53.55},
                  "encoding": {
                    "y": {"field": "hi", "type": "quantitative", "scale": {"domain": [0, 15], "nice": false},
                      "axis": {"title": "x 10", "titleAngle": 0, "titleAlign": "left", "titleBaseline": "alphabetic", "titleX": 2, "titleY": -3, "titleFontSize": 23, "values": [0, 5, 10, 15], "labelFontSize": 25, "labelPadding": 11, "tickSize": -8, "domain": false, "grid": true, "gridColor": "#b8b8b8", "gridDash": [2, 2], "labelOverlap": false, "labelFlush": false}}
                  }
                },
                {
                  "transform": [{"filter": "datum.effect == 'total change'"}],
                  "mark": {"type": "tick", "orient": "horizontal", "color": "#111111", "opacity": 1, "thickness": 1.5, "size": 9, "xOffset": 69.85},
                  "encoding": {
                    "y": {"field": "hi", "type": "quantitative", "scale": {"domain": [0, 15], "nice": false},
                      "axis": {"title": "x 10", "titleAngle": 0, "titleAlign": "left", "titleBaseline": "alphabetic", "titleX": 2, "titleY": -3, "titleFontSize": 23, "values": [0, 5, 10, 15], "labelFontSize": 25, "labelPadding": 11, "tickSize": -8, "domain": false, "grid": true, "gridColor": "#b8b8b8", "gridDash": [2, 2], "labelOverlap": false, "labelFlush": false}}
                  }
                },
                {
                  "transform": [{"filter": "datum.effect == 'climate effect'"}],
                  "mark": {"type": "tick", "orient": "horizontal", "color": "#111111", "opacity": 1, "thickness": 1.5, "size": 9, "xOffset": 37.15},
                  "encoding": {
                    "y": {"field": "lo", "type": "quantitative", "scale": {"domain": [0, 15], "nice": false},
                      "axis": {"title": "x 10", "titleAngle": 0, "titleAlign": "left", "titleBaseline": "alphabetic", "titleX": 2, "titleY": -3, "titleFontSize": 23, "values": [0, 5, 10, 15], "labelFontSize": 25, "labelPadding": 11, "tickSize": -8, "domain": false, "grid": true, "gridColor": "#b8b8b8", "gridDash": [2, 2], "labelOverlap": false, "labelFlush": false}}
                  }
                },
                {
                  "transform": [{"filter": "datum.effect == 'combined effect'"}],
                  "mark": {"type": "tick", "orient": "horizontal", "color": "#111111", "opacity": 1, "thickness": 1.5, "size": 9, "xOffset": 53.55},
                  "encoding": {
                    "y": {"field": "lo", "type": "quantitative", "scale": {"domain": [0, 15], "nice": false},
                      "axis": {"title": "x 10", "titleAngle": 0, "titleAlign": "left", "titleBaseline": "alphabetic", "titleX": 2, "titleY": -3, "titleFontSize": 23, "values": [0, 5, 10, 15], "labelFontSize": 25, "labelPadding": 11, "tickSize": -8, "domain": false, "grid": true, "gridColor": "#b8b8b8", "gridDash": [2, 2], "labelOverlap": false, "labelFlush": false}}
                  }
                },
                {
                  "transform": [{"filter": "datum.effect == 'total change'"}],
                  "mark": {"type": "tick", "orient": "horizontal", "color": "#111111", "opacity": 1, "thickness": 1.5, "size": 9, "xOffset": 69.85},
                  "encoding": {
                    "y": {"field": "lo", "type": "quantitative", "scale": {"domain": [0, 15], "nice": false},
                      "axis": {"title": "x 10", "titleAngle": 0, "titleAlign": "left", "titleBaseline": "alphabetic", "titleX": 2, "titleY": -3, "titleFontSize": 23, "values": [0, 5, 10, 15], "labelFontSize": 25, "labelPadding": 11, "tickSize": -8, "domain": false, "grid": true, "gridColor": "#b8b8b8", "gridDash": [2, 2], "labelOverlap": false, "labelFlush": false}}
                  }
                }
              ]
            },
            {
              "data": {"values": [{"label": "c"}]},
              "mark": {"type": "text", "fontSize": 58, "fontWeight": "bold", "align": "right", "baseline": "alphabetic", "color": "#333333"},
              "encoding": {
                "x": {"datum": 2078.2, "type": "quantitative"},
                "y": {"datum": 13.84, "type": "quantitative"},
                "text": {"field": "label"}
              }
            },
            {
              "data": {"values": [{"label": "8"}]},
              "mark": {"type": "text", "fontSize": 16, "align": "left", "baseline": "alphabetic", "color": "#000000"},
              "encoding": {
                "x": {"datum": 2025.9, "type": "quantitative"},
                "y": {"datum": 15.78, "type": "quantitative"},
                "text": {"field": "label"}
              }
            }
          ]
        }
      ],
      "spacing": 0,
      "bounds": "flush",
      "resolve": {"legend": {"fill": "independent"}}
    }
  ]
}
